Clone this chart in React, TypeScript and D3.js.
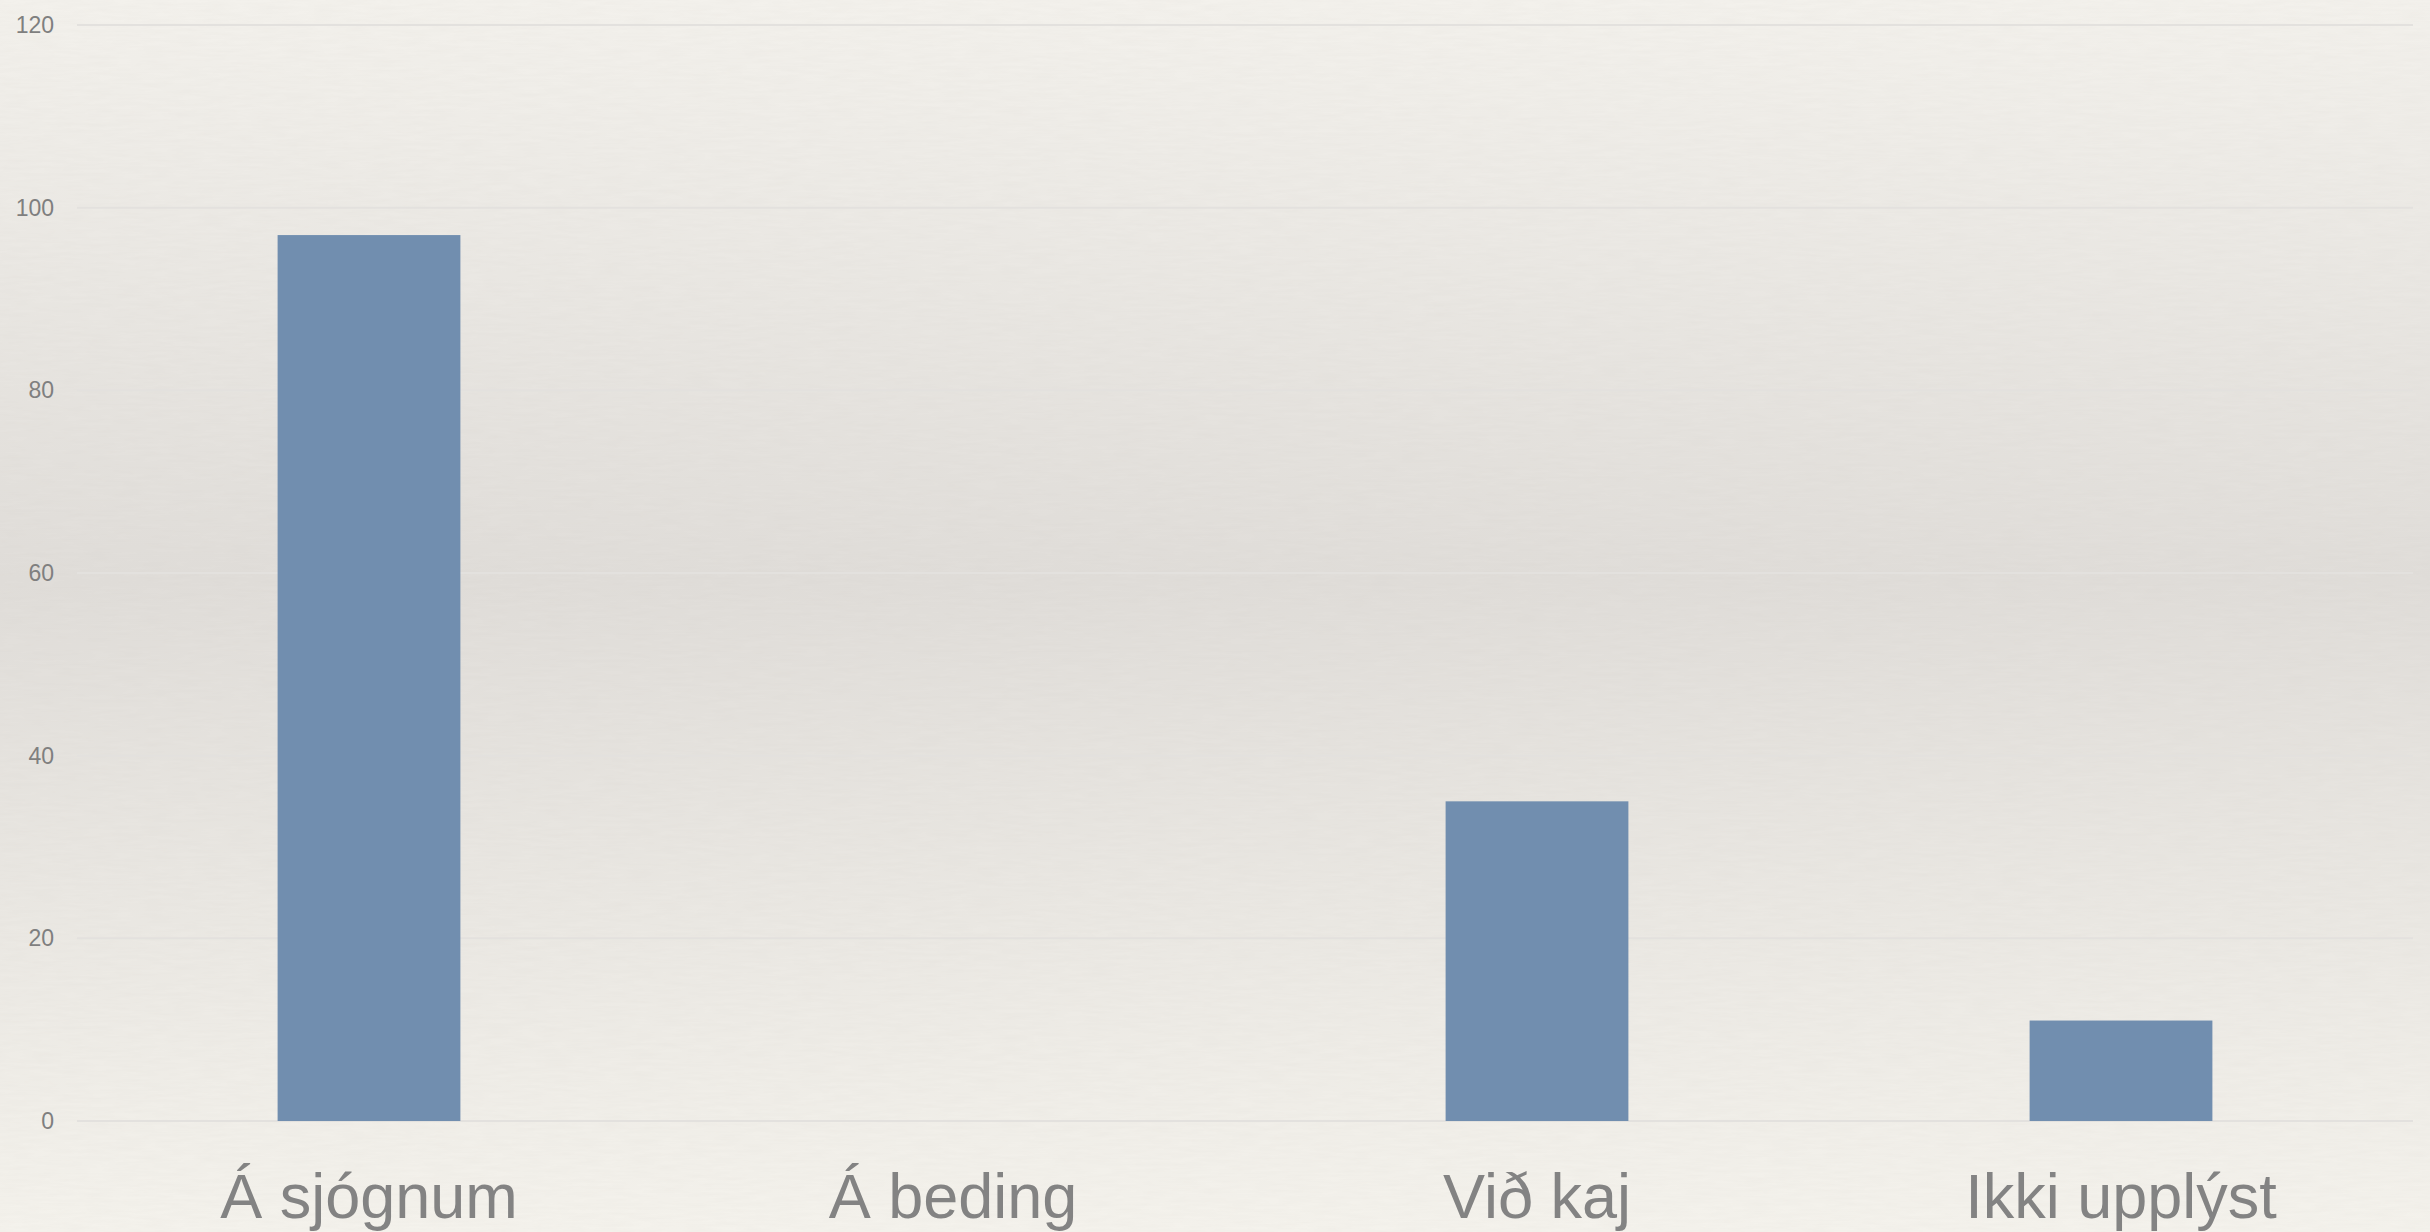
import React, { useRef, useEffect } from "react";
import { select, scaleBand, scaleLinear, axisLeft, axisBottom } from "d3";

const categories = ["Á sjógnum", "Á beding", "Við kaj", "Ikki upplýst"];
const values = [97, 0, 35, 11];
const yTicks = [0, 20, 40, 60, 80, 100, 120];

const width = 2430;
const height = 1232;
const margin = { top: 25, right: 17, bottom: 111, left: 77 };

const App = () => {
    const svgRef = useRef<SVGSVGElement>(null);

    useEffect(() => {
        const svg = select(svgRef.current);
        const innerW = width - margin.left - margin.right;
        const innerH = height - margin.top - margin.bottom;

        const xScale = scaleBand<string>()
            .domain(categories)
            .range([0, innerW])
            .paddingInner(0.687)
            .paddingOuter(0.3435);

        const yScale = scaleLinear().domain([0, 120]).range([innerH, 0]);

        const g = svg.select<SVGGElement>(".plot")
            .attr("transform", "translate(" + margin.left + "," + margin.top + ")");

        // grid lines
        g.select(".grid")
            .selectAll("line")
            .data(yTicks)
            .join("line")
            .attr("x1", 0)
            .attr("x2", innerW)
            .attr("y1", (d) => yScale(d))
            .attr("y2", (d) => yScale(d))
            .attr("stroke", "#e3e1de")
            .attr("stroke-width", 2);

        // y axis labels
        const yAxis = axisLeft(yScale).tickValues(yTicks).tickSize(0).tickPadding(23);
        const ya = g.select<SVGGElement>(".y-axis").call(yAxis);
        ya.select(".domain").remove();
        ya.selectAll("text")
            .attr("fill", "#7f7f7f")
            .attr("font-size", 23)
            .attr("font-family", "Liberation Sans, Arial, sans-serif");

        // bars
        g.select(".bars")
            .selectAll("rect")
            .data(values)
            .join("rect")
            .attr("x", (d, i) => xScale(categories[i]) as number)
            .attr("width", xScale.bandwidth())
            .attr("y", (d) => yScale(d))
            .attr("height", (d) => innerH - yScale(d))
            .attr("fill", "#718eaf");

        // x axis labels
        const xAxis = axisBottom(xScale).tickSize(0).tickPadding(52);
        const xa = g.select<SVGGElement>(".x-axis")
            .attr("transform", "translate(0," + innerH + ")")
            .call(xAxis);
        xa.select(".domain").remove();
        xa.selectAll("text")
            .attr("fill", "#838383")
            .attr("font-size", 63)
            .attr("font-family", "Liberation Sans, Arial, sans-serif");
    }, []);

    return (
        <svg
            ref={svgRef}
            width={width}
            height={height}
            style={{ position: "absolute", left: 0, top: 0, display: "block" }}
        >
            <defs>
                <linearGradient id="paper" x1="0" y1="0" x2="0" y2="1">
                    <stop offset="0" stopColor="#f3f1ec" />
                    <stop offset="0.47" stopColor="#e0ddd9" />
                    <stop offset="1" stopColor="#f4f2ec" />
                </linearGradient>
                <filter id="grain" x="0" y="0" width="100%" height="100%">
                    <feTurbulence type="fractalNoise" baseFrequency="0.035 0.3" numOctaves="3" seed="4" />
                    <feColorMatrix
                        type="matrix"
                        values="0 0 0 0 0.45  0 0 0 0 0.42  0 0 0 0 0.38  0 0 0 0.08 -0.02"
                    />
                </filter>
            </defs>
            <rect width={width} height={height} fill="url(#paper)" />
            <rect width={width} height={height} filter="url(#grain)" />
            <g className="plot">
                <g className="grid" />
                <g className="y-axis" />
                <g className="bars" />
                <g className="x-axis" />
            </g>
        </svg>
    );
};

export default App;
